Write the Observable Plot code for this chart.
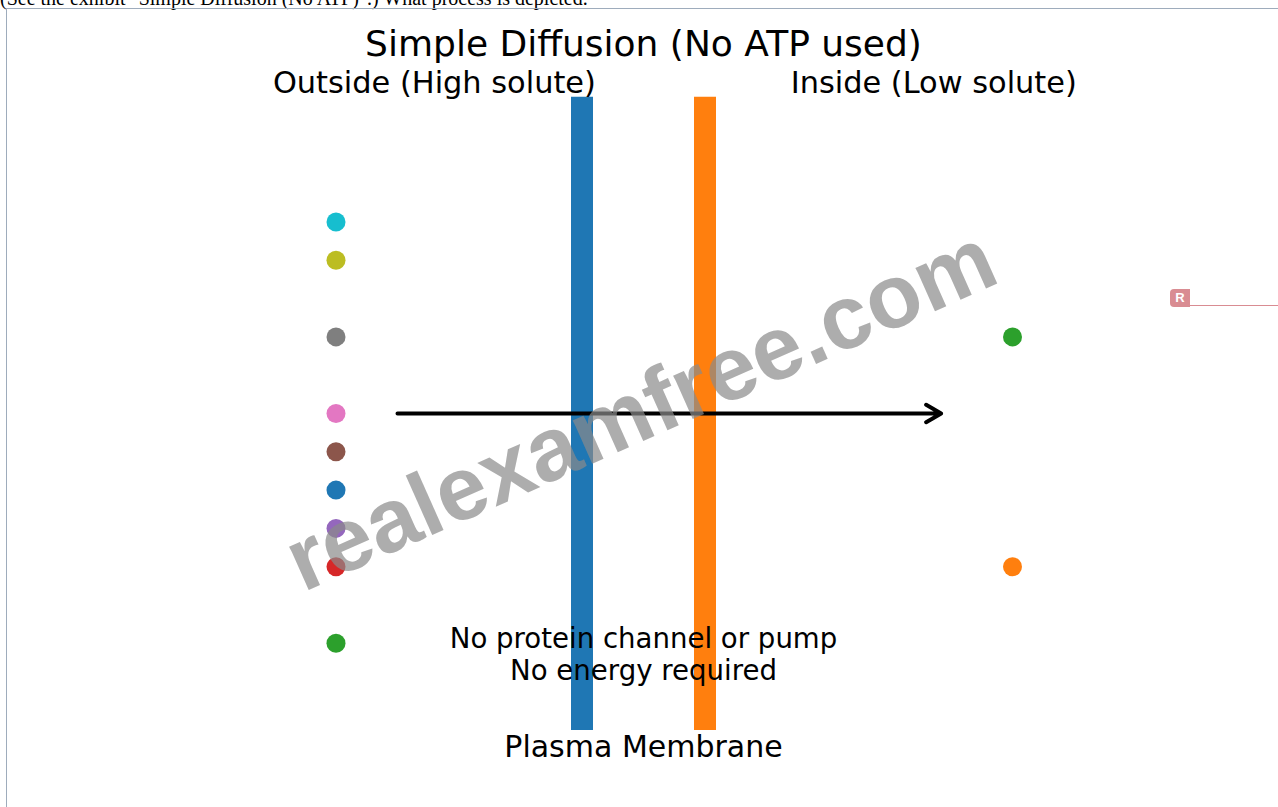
<!DOCTYPE html>
<html>
<head>
<meta charset="utf-8">
<script src="https://cdn.jsdelivr.net/npm/d3@7"></script>
<script src="https://cdn.jsdelivr.net/npm/@observablehq/plot@0.6"></script>
<style>
  html, body { margin: 0; padding: 0; background: #fff; width: 1278px; height: 807px; overflow: hidden; }
  #question { position: absolute; left: 0; top: -13px; font-family: "Liberation Serif", "Times New Roman", serif; font-size: 20px; color: #000; white-space: nowrap; }
  #frame { position: absolute; left: 6px; top: 8px; width: 1300px; height: 820px; border-left: 1px solid #9eacbc; border-top: 1px solid #9eacbc; }
  #chart { position: absolute; left: 0; top: 0; }
  #badge { position: absolute; left: 1170px; top: 289px; width: 20px; height: 18px; background: #d98c92; border-radius: 4px 0 0 4px; color: #fff; font: bold 13px "Liberation Sans", Arial, sans-serif; text-align: center; line-height: 18px; }
  #badgeLine { position: absolute; left: 1190px; top: 305px; width: 88px; height: 1px; background: #d98c92; }
</style>
</head>
<body>
<div id="question">(See the exhibit "Simple Diffusion (No ATP)".) What process is depicted.</div>
<div id="frame"></div>
<div id="chart"></div>
<div id="badge">R</div>
<div id="badgeLine"></div>
<script>
// Solute particles outside (left) and inside (right) the cell
const outsideY = [7.5, 7.0, 6.0, 5.0, 4.5, 4.0, 3.5, 3.0, 2.0];
const outsideColors = ["#17becf", "#bcbd22", "#7f7f7f", "#e377c2", "#8c564b", "#1f77b4", "#9467bd", "#d62728", "#2ca02c"];
const insideY = [6.0, 3.0];
const insideColors = ["#2ca02c", "#ff7f0e"];
const outsideX = 2.5;
const insideX = 8.0;

// Membrane layers (lipid bilayer)
const membraneX = [4.5, 5.5];
const membraneColors = ["#1f77b4", "#ff7f0e"];
const membraneSpan = [0.86, 9.13];

// Diffusion arrow
const arrowFrom = 3.0;
const arrowTo = 7.42;
const arrowY = 5.0;

const title = "Simple Diffusion (No ATP used)";
const outsideLabel = "Outside (High solute)";
const insideLabel = "Inside (Low solute)";
const noteLines = ["No protein channel or pump", "No energy required"];
const membraneLabel = "Plasma Membrane";
const watermark = "realexamfree.com";

const outside = outsideY.map((y, i) => ({x: outsideX, y, c: outsideColors[i]}));
const inside = insideY.map((y, i) => ({x: insideX, y, c: insideColors[i]}));
const membranes = membraneX.map((x, i) => ({x, c: membraneColors[i]}));

const chart = Plot.plot({
  width: 1278,
  height: 807,
  marginLeft: 28,
  marginRight: 20,
  marginTop: 30,
  marginBottom: 11,
  x: {domain: [0, 10], axis: null},
  y: {domain: [0, 10], axis: null},
  style: {fontFamily: "DejaVu Sans", background: "transparent", color: "#000", overflow: "visible"},
  marks: [
    Plot.ruleX(membranes, {x: "x", y1: membraneSpan[0], y2: membraneSpan[1], stroke: "c", strokeWidth: 22}),
    Plot.arrow([{}], {x1: arrowFrom, x2: arrowTo, y1: arrowY, y2: arrowY, stroke: "#000", strokeWidth: 4, headLength: 6.5, headAngle: 60}),
    Plot.dot(outside, {x: "x", y: "y", fill: "c", r: 9.5}),
    Plot.dot(inside, {x: "x", y: "y", fill: "c", r: 9.5}),
    Plot.text([title], {x: 5, y: 9.82, text: d => d, fontSize: 36, fill: "#000"}),
    Plot.text([outsideLabel], {x: 3.3, y: 9.31, text: d => d, fontSize: 30.4, fill: "#000"}),
    Plot.text([insideLabel], {x: 7.36, y: 9.31, text: d => d, fontSize: 30.4, fill: "#000"}),
    Plot.text([noteLines[0]], {x: 5, y: 2.05, text: d => d, fontSize: 27.6, fill: "#000"}),
    Plot.text([noteLines[1]], {x: 5, y: 1.63, text: d => d, fontSize: 27.6, fill: "#000"}),
    Plot.text([membraneLabel], {x: 5, y: 0.64, text: d => d, fontSize: 30, fill: "#000"}),
    Plot.text([watermark], {x: 4.98, y: 5.04, text: d => d, fontSize: 90, fontWeight: "bold", fontFamily: "Liberation Sans", rotate: -24, fill: "#8a8a8a", fillOpacity: 0.7})
  ]
});
document.getElementById("chart").appendChild(chart);
</script>
</body>
</html>
